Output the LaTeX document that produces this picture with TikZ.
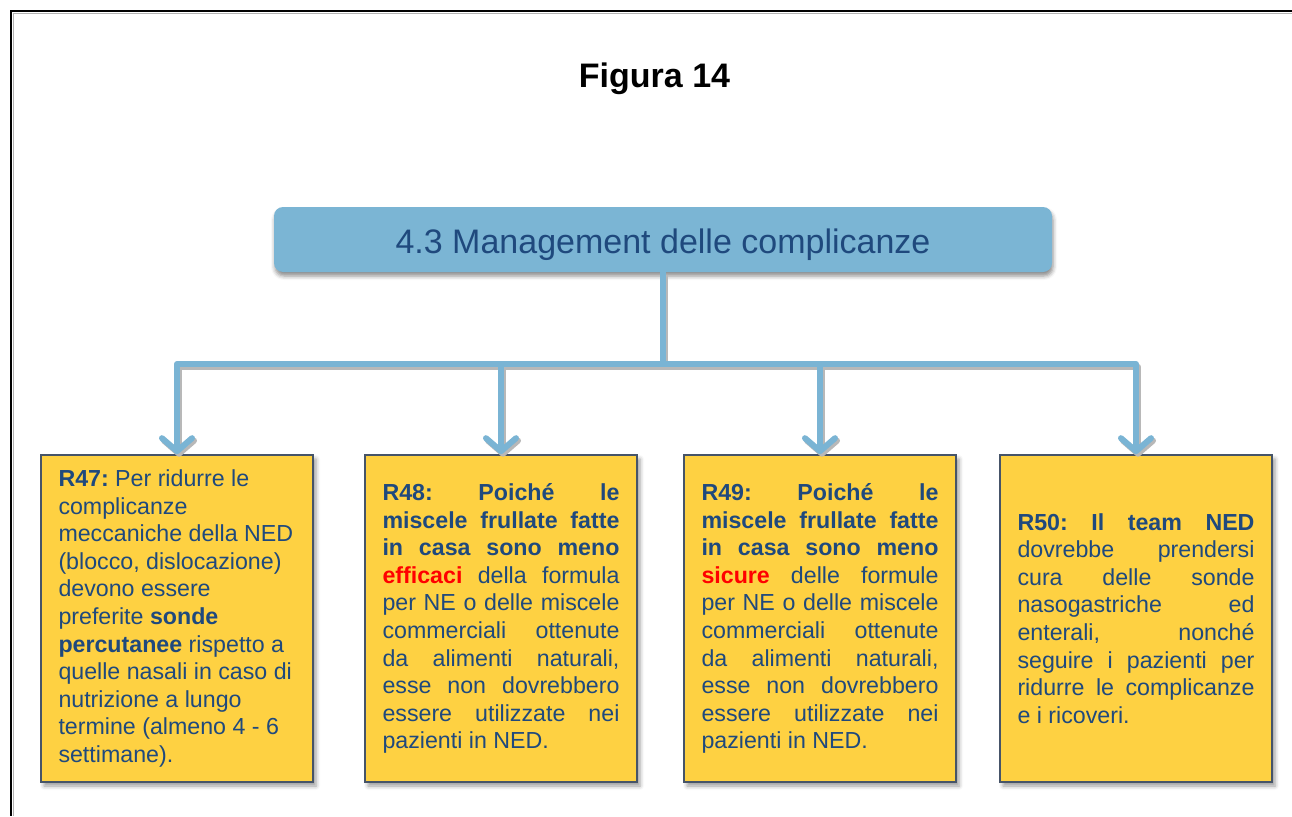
\documentclass[tikz,border=0pt]{standalone}
\usepackage{fontspec}
\setmainfont{Liberation Sans}
\usetikzlibrary{arrows.meta,shadows.blur}

\definecolor{hdrblue}{RGB}{123,181,212}
\definecolor{linkblue}{RGB}{122,180,212}
\definecolor{notegold}{RGB}{254,209,66}
\definecolor{noteedge}{RGB}{70,84,104}
\definecolor{inkblue}{RGB}{31,73,125}
\definecolor{alertred}{RGB}{255,0,0}

% text width inside the recommendation boxes
\newlength\notewd
\setlength\notewd{237pt}
% natural, stretchable interword spaces inside the boxes
\newcommand\notespacing{\frenchspacing\spaceskip=0pt\xspaceskip=0pt\relax}
% one line of a justified paragraph, stretched to the full text width
\newcommand\jl[1]{\makebox[\notewd][s]{#1}}

\begin{document}
\begin{tikzpicture}[x=1pt,y=-1pt,
  pageframe/.style={line width=2pt, black},
  frameshade/.style={line width=1.2pt, black!30},
  figtitle/.style={font=\fontsize{34}{40}\selectfont\bfseries, anchor=base},
  header/.style={fill=hdrblue, rounded corners=9pt, minimum width=778pt,
    minimum height=65pt, inner sep=0pt, text=inkblue,
    font=\fontsize{34}{40}\selectfont, text height=27pt, text depth=0pt,
    blur shadow={shadow xshift=1pt, shadow yshift=-4pt,
      shadow blur radius=4pt, shadow opacity=45}},
  note/.style={fill=notegold, draw=noteedge, line width=1.6pt,
    minimum height=327pt, text width=\notewd, inner xsep=17.5pt, inner ysep=0pt,
    text=inkblue, font=\fontsize{23.2}{27.6}\selectfont, align=left,
    blur shadow={shadow xshift=3pt, shadow yshift=-4pt,
      shadow blur radius=4pt, shadow opacity=40}},
  link/.style={draw=linkblue, line width=6pt, line join=round,
    -{Straight Barb[length=13pt,width=30pt,round]}},
  linkshade/.style={draw=black!28, line width=6pt, line join=round,
    -{Straight Barb[length=13pt,width=30pt,round]},
    transform canvas={xshift=2pt,yshift=-2.5pt}}
]
\useasboundingbox (0,0) rectangle (1292,816);

% page frame (top and left edges)
\draw[frameshade] (1292,13.5) -- (13.5,13.5) -- (13.5,816);
\draw[pageframe] (1292,11) -- (11,11) -- (11,816);

% title
\node[figtitle] (title) at (654.5,88) {Figura 14};

% header box
\node[header] (top) at (663,239.5) {4.3 Management delle complicanze};

% recommendation boxes
\node[note] (b1) at (177,618.5) {\notespacing
\textbf{R47:} Per ridurre le\\
complicanze\\
meccaniche della NED\\
(blocco, dislocazione)\\
devono essere\\
preferite \textbf{sonde}\\
\textbf{percutanee} rispetto a\\
quelle nasali in caso di\\
nutrizione a lungo\\
termine (almeno 4 - 6\\
settimane).};

\node[note] (b2) at (501,618.5) {\notespacing
\jl{\textbf{R48: Poiché le}}\\
\jl{\textbf{miscele frullate fatte}}\\
\jl{\textbf{in casa sono meno}}\\
\jl{\textcolor{alertred}{\textbf{efficaci}} della formula}\\
\jl{per NE o delle miscele}\\
\jl{commerciali ottenute}\\
\jl{da alimenti naturali,}\\
\jl{esse non dovrebbero}\\
\jl{essere utilizzate nei}\\
pazienti in NED.};

\node[note] (b3) at (820,618.5) {\notespacing
\jl{\textbf{R49: Poiché le}}\\
\jl{\textbf{miscele frullate fatte}}\\
\jl{\textbf{in casa sono meno}}\\
\jl{\textcolor{alertred}{\textbf{sicure}} delle formule}\\
\jl{per NE o delle miscele}\\
\jl{commerciali ottenute}\\
\jl{da alimenti naturali,}\\
\jl{esse non dovrebbero}\\
\jl{essere utilizzate nei}\\
pazienti in NED.};

\node[note] (b4) at (1136,618.5) {\notespacing
\jl{\textbf{R50: Il team NED}}\\
\jl{dovrebbe prendersi}\\
\jl{cura delle sonde}\\
\jl{nasogastriche ed}\\
\jl{enterali, nonché}\\
\jl{seguire i pazienti per}\\
\jl{ridurre le complicanze}\\
e i ricoveri.};

% branch point under the header
\coordinate (hub) at (663,364);

% connector shadows, then connectors
\foreach \b in {b1,b2,b3,b4}
  \draw[linkshade] (top.south) -- (hub) -| (\b.north);
\foreach \b in {b1,b2,b3,b4}
  \draw[link] (top.south) -- (hub) -| (\b.north);
\end{tikzpicture}
\end{document}
